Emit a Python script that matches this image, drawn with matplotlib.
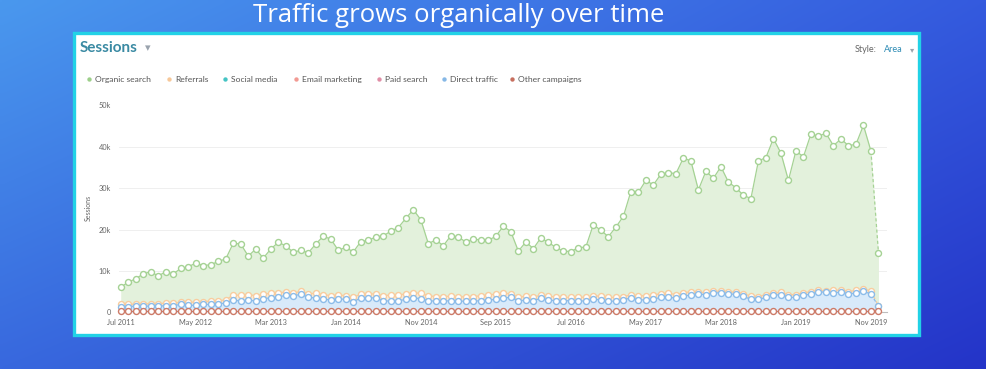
import numpy as np
import pandas as pd
import matplotlib
matplotlib.use('Agg')
import matplotlib.pyplot as plt
from matplotlib.patches import Rectangle

# monthly sessions (thousands), Jul 2011 .. Dec 2019 (last month incomplete)
months = pd.date_range('2011-07-01', periods=102, freq='MS')

organic = [6.05, 7.3, 8.1, 9.3, 9.8, 8.8, 9.8, 9.3, 10.6, 11.0,
           11.9, 11.3, 11.5, 12.3, 12.9, 16.7, 16.5, 13.6, 15.3, 13.1,
           15.3, 16.9, 16.1, 14.5, 15.0, 14.4, 16.5, 18.4, 17.7, 15.0,
           15.7, 14.6, 17.1, 17.4, 18.2, 18.5, 19.6, 20.5, 22.7, 24.8,
           22.4, 16.6, 17.5, 16.1, 18.5, 18.2, 17.0, 17.7, 17.5, 17.4,
           18.4, 20.8, 19.5, 14.8, 17.0, 15.4, 18.0, 16.9, 15.7, 14.8,
           14.7, 15.6, 15.8, 21.2, 19.8, 18.3, 20.6, 23.2, 29.2, 29.0,
           31.9, 30.8, 33.4, 33.8, 33.5, 37.3, 36.6, 29.6, 34.1, 32.4,
           35.2, 31.5, 30.1, 28.3, 27.5, 36.6, 37.4, 42.0, 38.5, 31.9,
           39.0, 37.6, 43.1, 42.6, 43.3, 40.3, 41.9, 40.3, 40.6, 45.2,
           39.0, 14.4]

referrals = [1.9, 1.9, 2.0, 2.0, 2.1, 2.1, 2.2, 2.2, 2.4, 2.4,
             2.5, 2.6, 2.7, 2.8, 3.0, 4.2, 4.1, 4.3, 4.0, 4.4,
             4.6, 4.7, 4.9, 4.6, 5.1, 4.5, 4.6, 4.3, 4.0, 4.2,
             4.0, 3.6, 4.4, 4.5, 4.4, 4.0, 4.2, 4.1, 4.5, 4.7,
             4.6, 4.0, 3.8, 3.8, 3.9, 3.8, 3.7, 3.8, 4.0, 4.2,
             4.4, 4.6, 4.5, 3.6, 3.9, 3.7, 4.1, 3.9, 3.7, 3.6,
             3.6, 3.7, 3.6, 4.0, 3.9, 3.6, 3.6, 3.8, 4.2, 4.0,
             4.0, 4.2, 4.5, 4.6, 4.3, 4.7, 5.0, 4.8, 4.8, 5.1,
             5.1, 4.9, 4.9, 4.5, 3.9, 3.8, 4.3, 4.7, 4.8, 4.2,
             4.3, 4.7, 5.0, 5.3, 5.2, 5.3, 5.4, 5.0, 5.3, 5.7,
             5.1, 1.6]

direct = [1.4, 1.4, 1.5, 1.5, 1.5, 1.5, 1.6, 1.6, 1.9, 1.7,
          1.7, 1.9, 1.9, 2.1, 2.2, 3.0, 2.7, 3.0, 2.7, 3.3,
          3.5, 3.7, 4.1, 3.9, 4.4, 3.6, 3.5, 3.2, 3.0, 3.3,
          3.1, 2.5, 3.5, 3.5, 3.5, 2.8, 2.7, 2.8, 3.1, 3.5,
          3.3, 2.8, 2.7, 2.7, 2.8, 2.7, 2.7, 2.7, 2.8, 3.0,
          3.1, 3.5, 3.6, 2.7, 3.0, 2.8, 3.4, 3.0, 2.8, 2.8,
          2.8, 2.8, 2.7, 3.2, 3.0, 2.7, 2.7, 3.0, 3.5, 3.0,
          3.0, 3.2, 3.6, 3.7, 3.4, 3.9, 4.2, 4.4, 4.3, 4.7,
          4.7, 4.4, 4.4, 3.9, 3.1, 3.1, 3.6, 4.1, 4.3, 3.6,
          3.6, 4.1, 4.4, 4.9, 4.9, 4.7, 4.9, 4.4, 4.7, 5.1,
          4.4, 1.5]

other = [0.3, 0.3, 0.3, 0.3, 0.3, 0.3, 0.3, 0.3, 0.3, 0.3,
         0.3, 0.3, 0.3, 0.3, 0.3, 0.3, 0.3, 0.3, 0.3, 0.3,
         0.3, 0.3, 0.3, 0.3, 0.3, 0.3, 0.3, 0.3, 0.3, 0.3,
         0.3, 0.3, 0.3, 0.3, 0.3, 0.3, 0.3, 0.3, 0.3, 0.3,
         0.3, 0.3, 0.3, 0.3, 0.3, 0.3, 0.3, 0.3, 0.3, 0.3,
         0.3, 0.3, 0.3, 0.3, 0.3, 0.3, 0.3, 0.3, 0.3, 0.3,
         0.3, 0.3, 0.3, 0.3, 0.3, 0.3, 0.3, 0.3, 0.3, 0.3,
         0.3, 0.3, 0.3, 0.3, 0.3, 0.3, 0.3, 0.3, 0.3, 0.3,
         0.3, 0.3, 0.3, 0.3, 0.3, 0.3, 0.3, 0.3, 0.3, 0.3,
         0.3, 0.3, 0.3, 0.3, 0.3, 0.3, 0.3, 0.3, 0.3, 0.3,
         0.3, 0.3]

legend_names = ['Organic search', 'Referrals', 'Social media', 'Email marketing',
                'Paid search', 'Direct traffic', 'Other campaigns']
legend_cols = ['#9dcf8a', '#f6c89a', '#45c4c4', '#f29a93', '#e08ea6', '#86b8e6', '#c76f5e']

y_ticks = [0, 10, 20, 30, 40, 50]
y_labels = ['0', '10k', '20k', '30k', '40k', '50k']

W, H = 986, 369
fig = plt.figure(figsize=(W / 100, H / 100), dpi=100)

# background, drawn in pixel coords
bg = fig.add_axes([0, 0, 1, 1])
tl = np.array([74, 152, 238]) / 255.
tr = np.array([52, 90, 222]) / 255.
bl = np.array([56, 104, 222]) / 255.
br = np.array([36, 52, 200]) / 255.
u = np.linspace(0, 1, 200)[None, :, None]
v = np.linspace(0, 1, 80)[:, None, None]
grad = (1 - v) * ((1 - u) * tl + u * tr) + v * ((1 - u) * bl + u * br)
bg.imshow(grad, extent=[0, W, H, 0], aspect='auto', interpolation='bilinear')
bg.set_xlim(0, W)
bg.set_ylim(H, 0)
bg.axis('off')

bg.add_patch(Rectangle((73.5, 32.5), 845, 302, facecolor='white',
                       edgecolor='#22d2e6', lw=2.4, zorder=2))

bg.text(459, 15, 'Traffic grows organically over time', color='white',
        fontsize=18.5, family='Open Sans', ha='center', va='center', zorder=3)

fam = ['Lato', 'DejaVu Sans']
bg.text(80, 48, 'Sessions', color='#3a8aa3', fontsize=11, family=fam,
        weight='bold', ha='left', va='center', zorder=3)
bg.text(148, 48, '▾', color='#9aa3ad', fontsize=8, family=['DejaVu Sans'],
        ha='center', va='center', zorder=3)
bg.text(855, 50, 'Style:', color='#666666', fontsize=6.5, family=fam,
        ha='left', va='center', zorder=3)
bg.text(884, 50, 'Area', color='#2e8cb5', fontsize=6.5, family=fam,
        ha='left', va='center', zorder=3)
bg.text(912, 50, '▾', color='#9aa3ad', fontsize=6, family=['DejaVu Sans'],
        ha='center', va='center', zorder=3)

dot_x = [89, 169, 225, 296, 379, 444, 512]
for name, col, dx in zip(legend_names, legend_cols, dot_x):
    bg.scatter([dx], [79.3], s=10, color=col, zorder=3, linewidths=0)
    bg.text(dx + 6, 79.3, name, color='#555555', fontsize=6.1, family=fam,
            ha='left', va='center', zorder=3)

bg.text(88, 208, 'Sessions', color='#666666', fontsize=5, family=fam,
        rotation=90, ha='center', va='center', zorder=3)

# chart area
left, right, top, bot = 119.3, 886.7, 105.5, 312.3
ax = fig.add_axes([left / W, 1 - bot / H, (right - left) / W, (bot - top) / H])
ax.patch.set_alpha(0)
x = np.arange(len(months))

ax.fill_between(x, 0, organic, color='#e3f1dc', lw=0, zorder=1)
ax.fill_between(x, 0, referrals, color='#f6ecdc', lw=0, zorder=2)
ax.fill_between(x, 0, direct, color='#d8eafa', lw=0, zorder=3)


def draw(vals, col, z):
    vals = np.asarray(vals)
    ax.plot(x[:-1], vals[:-1], color=col, lw=0.9, zorder=z)
    ax.plot(x[-2:], vals[-2:], color=col, lw=0.9, ls=(0, (2.5, 2)), zorder=z)
    ax.plot(x, vals, ls='none', marker='o', ms=4.3, mfc='white', mec=col,
            mew=1.0, zorder=z + 0.5, clip_on=False)


draw(organic, '#a5d294', 5)
draw(referrals, '#f8cd9f', 6)
draw(direct, '#8cbce9', 7)
draw(other, '#cd7b68', 8)

ax.set_xlim(-0.19, 102.1)
ax.set_ylim(0, 50)
ax.set_yticks(y_ticks)
ax.set_yticklabels(y_labels)
tick_pos = list(range(0, 101, 10))
ax.set_xticks(tick_pos)
ax.set_xticklabels([months[i].strftime('%b %Y') for i in tick_pos])
ax.tick_params(axis='both', length=0, labelsize=5.3, labelcolor='#666666')
ax.tick_params(axis='y', pad=6)
ax.tick_params(axis='x', pad=4.5)
for lab in ax.get_xticklabels() + ax.get_yticklabels():
    lab.set_family(fam)
ax.grid(axis='y', color='#ececec', lw=0.6, zorder=0)
ax.set_axisbelow(True)
for s in ['left', 'right', 'top']:
    ax.spines[s].set_visible(False)
ax.spines['bottom'].set_color('#bdbdbd')
ax.spines['bottom'].set_linewidth(0.8)

fig.savefig('out.png', dpi=100)
